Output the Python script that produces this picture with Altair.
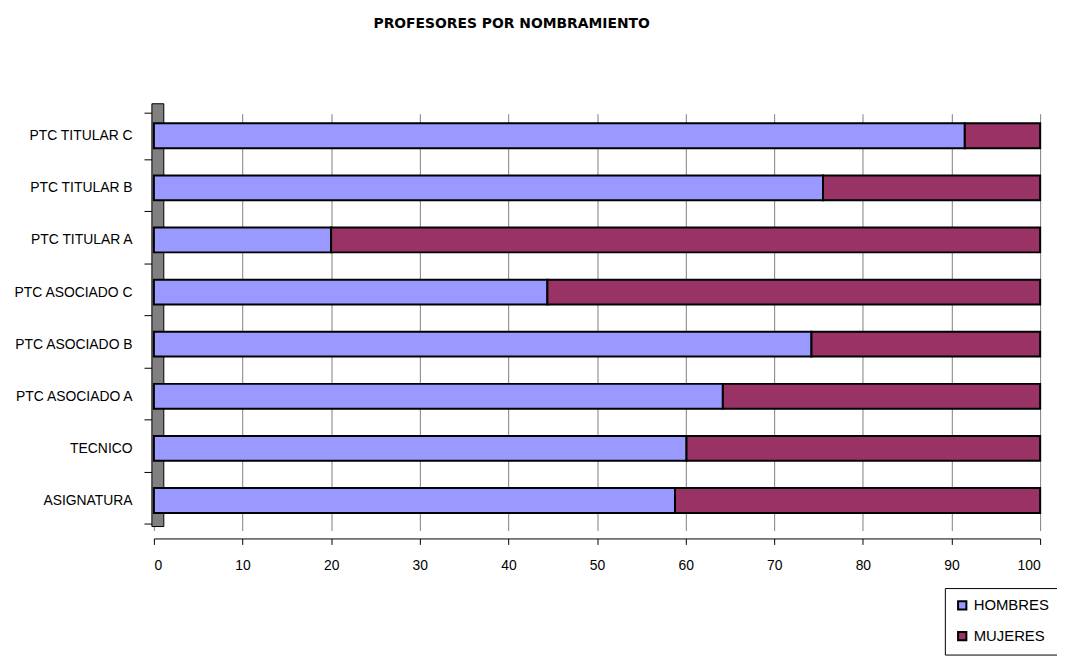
import altair as alt
import pandas as pd

categorias = ["PTC TITULAR C", "PTC TITULAR B", "PTC TITULAR A", "PTC ASOCIADO C",
              "PTC ASOCIADO B", "PTC ASOCIADO A", "TECNICO", "ASIGNATURA"]
hombres = [91.5, 75.5, 20.0, 44.4, 74.2, 64.2, 60.1, 58.8]
mujeres = [100 - h for h in hombres]
series = ["HOMBRES", "MUJERES"]
colores = ["#9999FF", "#993366"]
x_ticks = [0, 10, 20, 30, 40, 50, 60, 70, 80, 90, 100]

rows = []
for c, h, m in zip(categorias, hombres, mujeres):
    rows.append({"cat": c, "serie": "HOMBRES", "val": h, "ord": 0})
    rows.append({"cat": c, "serie": "MUJERES", "val": m, "ord": 1})
df = pd.DataFrame(rows)

W, H = 893, 440
FONT = "Liberation Sans"

wall = alt.Chart(pd.DataFrame({"a": [0]})).mark_rect(
    fill="#808080", stroke="black", strokeWidth=1
).encode(x=alt.value(-2), x2=alt.value(10), y=alt.value(2), y2=alt.value(H - 12))

bars = alt.Chart(df).mark_bar(stroke="black", strokeWidth=2, size=25).encode(
    y=alt.Y("cat:N", sort=categorias, title=None,
            scale=alt.Scale(range=[8, 428]),
            axis=alt.Axis(labelFontSize=14, labelFont=FONT, labelColor="black",
                          labelPadding=12, ticks=True, tickBand="extent", tickSize=10,
                          tickColor="black", domain=False, labelLimit=200)),
    x=alt.X("val:Q", stack="zero", title=None,
            scale=alt.Scale(domain=[0, 100], nice=False),
            axis=alt.Axis(values=x_ticks, labelFontSize=14, labelFont=FONT,
                          labelColor="black", tickColor="black", tickSize=6,
                          labelPadding=14, domainColor="black", grid=True,
                          gridColor="#808080", gridWidth=1)),
    color=alt.Color("serie:N", scale=alt.Scale(domain=series, range=colores),
                    legend=alt.Legend(title=None, orient="none", legendX=797, legendY=490,
                                      symbolType="square", symbolSize=70,
                                      symbolStrokeColor="black", symbolStrokeWidth=2,
                                      labelFontSize=15, labelFont=FONT, labelColor="black",
                                      strokeColor="black", padding=10, rowPadding=14,
                                      fillColor="white")),
    order=alt.Order("ord:Q"),
)

chart = alt.layer(wall, bars).properties(
    width=W, height=H,
    title=alt.TitleParams("PROFESORES POR NOMBRAMIENTO", fontSize=14, font="DejaVu Sans",
                          fontWeight="bold", color="black", offset=64, dx=-86,
                          anchor="middle"),
    autosize=alt.AutoSizeParams(type="none"),
    padding={"left": 147, "top": 92, "right": 17, "bottom": 122},
).configure_view(stroke=None).configure_axis(grid=False)

chart.save("out.html", embed_options={"renderer": "svg", "actions": False})
